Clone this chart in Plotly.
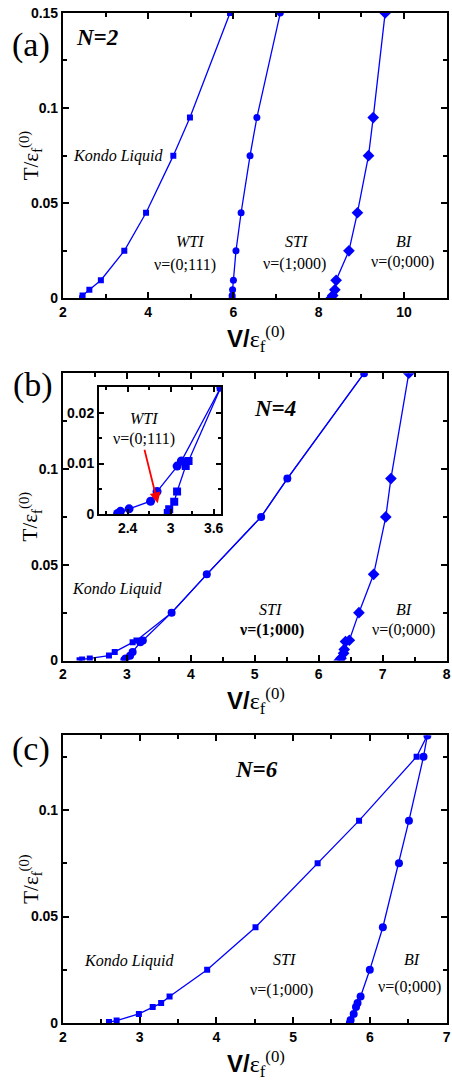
import plotly.graph_objects as go

W, H = 452, 1085

# ---------------- data ----------------
# panel (a) N=2
a_t = [0.0, 0.0015, 0.0045, 0.0095, 0.025, 0.045, 0.075, 0.095, 0.15]
a_kondo_v = [2.45, 2.46, 2.62, 2.89, 3.44, 3.95, 4.59, 4.98, 5.92]
a_wti_v = [5.97, 5.97, 5.98, 6.00, 6.06, 6.18, 6.39, 6.55, 7.10]
a_sti_v = [8.29, 8.33, 8.38, 8.41, 8.71, 8.91, 9.17, 9.28, 9.56]

# panel (b) N=4
b_kondo_v = [2.26, 2.30, 2.42, 2.72, 2.81, 3.09, 3.15, 3.70, 4.25, 5.10, 5.51, 6.71]
b_kondo_t = [0.0002, 0.0006, 0.0011, 0.0026, 0.0045, 0.0095, 0.0105, 0.025, 0.045, 0.075, 0.095, 0.15]
b_wti_v = [2.96, 2.98, 3.05, 3.09, 3.21, 3.25, 3.70, 4.25, 5.10, 5.51, 6.71]
b_wti_t = [0.0003, 0.001, 0.0025, 0.0045, 0.0095, 0.0105, 0.025, 0.045, 0.075, 0.095, 0.15]
b_sti_v = [6.32, 6.35, 6.39, 6.40, 6.42, 6.48, 6.63, 6.86, 7.05, 7.13, 7.41]
b_sti_t = [0.0, 0.0012, 0.0038, 0.0058, 0.0099, 0.0106, 0.025, 0.045, 0.075, 0.095, 0.15]

# panel (c) N=6
c_kondo_v = [2.60, 2.70, 2.99, 3.17, 3.28, 3.39, 3.88, 4.51, 5.32, 5.86, 6.61, 6.75]
c_kondo_t = [0.0005, 0.0012, 0.0043, 0.0075, 0.0094, 0.0125, 0.025, 0.045, 0.075, 0.095, 0.125, 0.135]
c_sti_v = [5.74, 5.75, 5.79, 5.82, 5.84, 5.88, 6.00, 6.17, 6.38, 6.51, 6.70, 6.75]
c_sti_t = [0.0, 0.0014, 0.0043, 0.0075, 0.0094, 0.0125, 0.025, 0.045, 0.075, 0.095, 0.125, 0.135]

# tick labels
a_yticks = [0, 0.05, 0.1, 0.15]
b_yticks = [0, 0.05, 0.1]
c_yticks = [0, 0.05, 0.1]
a_xticks = [2, 4, 6, 8, 10]
b_xticks = [2, 3, 4, 5, 6, 7, 8]
c_xticks = [2, 3, 4, 5, 6, 7]
i_xticks = [2.4, 3, 3.6]
i_yticks = [0, 0.01, 0.02]

BLUE = "#0000ff"
SERIF = "Liberation Serif"
SANS = "Liberation Sans"


def px(x):
    return x / W


def py(y):
    return 1 - y / H


fig = go.Figure()


def add(x, y, sym, size, xa, ya):
    fig.add_trace(go.Scatter(
        x=x, y=y, mode="lines+markers", xaxis=xa, yaxis=ya,
        line=dict(color=BLUE, width=1.3),
        marker=dict(symbol=sym, size=size, color=BLUE),
        showlegend=False, hoverinfo="skip"))


# (a)
add(a_kondo_v, a_t, "square", 6, "x", "y")
add(a_wti_v, a_t, "circle", 7, "x", "y")
add(a_sti_v, a_t, "diamond", 9, "x", "y")
# (b)
add(b_kondo_v, b_kondo_t, "square", 6, "x2", "y2")
add(b_wti_v, b_wti_t, "circle", 8, "x2", "y2")
add(b_sti_v, b_sti_t, "diamond", 9, "x2", "y2")
# inset
add(b_kondo_v, b_kondo_t, "circle", 9, "x4", "y4")
add(b_wti_v, b_wti_t, "square", 8, "x4", "y4")
# (c)
add(c_kondo_v, c_kondo_t, "square", 6, "x3", "y3")
add(c_sti_v, c_sti_t, "circle", 8, "x3", "y3")


def axis(rng, tickvals, minor_dtick, domain, anchor, ticklen=6, size=14):
    return dict(range=rng, domain=domain, anchor=anchor, showline=True, linecolor="black",
                linewidth=2, mirror="allticks", ticks="inside", ticklen=ticklen, tickwidth=1.5,
                tickcolor="black", showgrid=False, zeroline=False,
                tickmode="array", tickvals=tickvals, ticklabeloverflow="allow",
                tickfont=dict(family=SANS, size=size, color="black", weight="bold"),
                minor=dict(ticks="inside", ticklen=max(3, ticklen - 2), tickwidth=1.5,
                           tickcolor="black", tick0=0, dtick=minor_dtick, showgrid=False))


XD = [px(60), px(450.5)]
A_Y = [py(294.7), py(5)]
B_Y = [py(662.3), py(370.7)]
C_Y = [py(1030.3), py(738.3)]
I_X = [px(96.7), px(220.7)]
I_Y = [py(514), py(385)]

fig.update_layout(
    width=W, height=H, margin=dict(l=0, r=0, t=0, b=0),
    paper_bgcolor="white", plot_bgcolor="white",
    xaxis=axis([2, 11], a_xticks, 1, XD, "y"),
    yaxis=axis([0, 0.15], a_yticks, 0.025, A_Y, "x"),
    xaxis2=axis([2, 8], b_xticks, 0.5, XD, "y2"),
    yaxis2=axis([0, 0.15], b_yticks, 0.025, B_Y, "x2"),
    xaxis3=axis([2, 7], c_xticks, 0.5, XD, "y3"),
    yaxis3=axis([0, 0.135], c_yticks, 0.025, C_Y, "x3"),
    xaxis4=axis([2, 3.7], i_xticks, 0.3, I_X, "y4", ticklen=5),
    yaxis4=axis([0, 0.025], i_yticks, 0.005, I_Y, "x4", ticklen=5),
)

ann = []


def txt(x, y, s, size=16, family=SERIF, **kw):
    ann.append(dict(x=px(x), y=py(y), xref="paper", yref="paper", text=s, showarrow=False,
                    font=dict(family=family, size=size, color="black"),
                    xanchor="center", yanchor="middle", **kw))


XT = ('<span style="font-family:Liberation Sans;font-weight:bold">V/</span>'
      'ε<sub>f</sub><sup>(0)</sup>')
YT = 'T/ε<sub>f</sub><sup>(0)</sup>'

for bottom, center in [(294.7, 150), (662.3, 516.5), (1030.3, 884.3)]:
    txt(257, bottom + 41, XT, size=24)
    txt(27, center, YT, size=21, textangle=-90)

# (a)
txt(27, 38, "(a)", size=34)
txt(95, 30, "<b><i>N=2</i></b>", size=23)
txt(116, 150, "<i>Kondo Liquid</i>")
txt(189, 237, "<i>WTI</i>")
txt(184, 261, "ν=(0;111)")
txt(298, 237, "<i>STI</i>")
txt(296, 260, "ν=(1;000)")
txt(407, 237, "<i>BI</i>")
txt(406, 258, "ν=(0;000)")
# (b)
txt(30, 383, "(b)", size=34)
txt(276, 406, "<b><i>N=4</i></b>", size=23)
txt(115, 590, "<i>Kondo Liquid</i>")
txt(271, 610, "<i>STI</i>")
txt(272, 631, "<b>ν=(1;000)</b>")
txt(407, 610, "<i>BI</i>")
txt(407, 631, "ν=(0;000)")
txt(143, 417, "<i>WTI</i>")
txt(143, 437, "ν=(0;111)")
# (c)
txt(27, 752, "(c)", size=34)
txt(257, 773, "<b><i>N=6</i></b>", size=23)
txt(127, 967, "<i>Kondo Liquid</i>")
txt(286, 966, "<i>STI</i>")
txt(282, 997, "ν=(1;000)")
txt(415, 966, "<i>BI</i>")
txt(413, 994, "ν=(0;000)")

# red arrow in inset
ann.append(dict(x=2.82, y=0.0022, xref="x4", yref="y4", ax=2.63, ay=0.013,
                axref="x4", ayref="y4", showarrow=True, arrowhead=2, arrowsize=1.2,
                arrowwidth=1.8, arrowcolor="red", text=""))

fig.update_layout(annotations=ann)
fig.write_html("out.html", config={"displayModeBar": False},
               post_script="document.body.style.margin='0';document.body.style.overflow='hidden';")
